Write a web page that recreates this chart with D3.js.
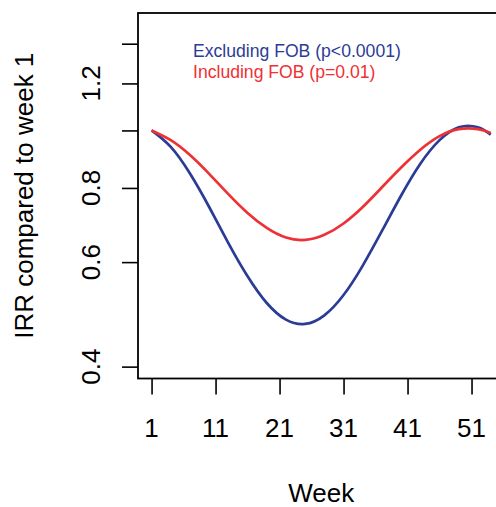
<!DOCTYPE html>
<html>
<head>
<meta charset="utf-8">
<script src="https://cdn.jsdelivr.net/npm/d3@7"></script>
<style>
  body { margin: 0; background: #fff; }
  svg { display: block; font-family: "Liberation Sans", Arial, Helvetica, sans-serif; }
</style>
</head>
<body>
<div id="chart"></div>
<script>
// values (IRR relative to week 1)
var weeks     = [1, 4, 7, 10, 13, 16, 19, 22, 25, 28, 31, 34, 37, 40, 43, 46, 49, 52, 54];
var excluding = [1.00, 0.938, 0.846, 0.743, 0.646, 0.568, 0.512, 0.480, 0.472, 0.488, 0.528,
                 0.592, 0.677, 0.777, 0.879, 0.963, 1.012, 1.012, 0.984];
var including = [1.00, 0.963, 0.909, 0.845, 0.781, 0.726, 0.685, 0.660, 0.654, 0.667, 0.697,
                 0.743, 0.802, 0.866, 0.928, 0.978, 1.005, 1.005, 0.990];
var xTicks = [1, 11, 21, 31, 41, 51];
var yTicks = [0.4, 0.6, 0.8, 1.0, 1.2, 1.4];
var yLabels = ["0.4", "0.6", "0.8", "", "1.2", ""];
var seriesNames = ["Excluding FOB (p<0.0001)", "Including FOB (p=0.01)"];
var seriesColors = ["#2b3c97", "#ee3134"];

var width = 496, height = 507;
var plotLeft = 138, plotTop = 13, plotBottom = 378.5, plotRight = 504.3;

var svg = d3.select("#chart").append("svg")
    .attr("width", width)
    .attr("height", height);

var x = d3.scaleLinear().domain([-1.12, 56.12]).range([plotLeft, plotRight]);
var y = d3.scaleLog().domain([0.382, 1.577]).range([plotBottom, plotTop]);

// plot box
svg.append("rect")
    .attr("x", plotLeft).attr("y", plotTop)
    .attr("width", plotRight - plotLeft).attr("height", plotBottom - plotTop)
    .attr("fill", "none").attr("stroke", "#000").attr("stroke-width", 1.8);

// x axis
var xAxis = svg.append("g")
    .attr("transform", "translate(0," + plotBottom + ")")
    .call(d3.axisBottom(x).tickValues(xTicks).tickSize(16).tickFormat(""));
xAxis.select(".domain").remove();
xAxis.selectAll("line").attr("stroke", "#000").attr("stroke-width", 1.6);

svg.selectAll(".xlab")
    .data(xTicks)
    .enter().append("text")
    .attr("class", "xlab")
    .attr("x", function(d) { return x(d); })
    .attr("y", 437)
    .attr("text-anchor", "middle")
    .attr("font-size", 26)
    .text(function(d) { return d; });

// y axis
var yAxis = svg.append("g")
    .attr("transform", "translate(" + plotLeft + ",0)")
    .call(d3.axisLeft(y).tickValues(yTicks).tickSize(16).tickFormat(""));
yAxis.select(".domain").remove();
yAxis.selectAll("line").attr("stroke", "#000").attr("stroke-width", 1.6);

svg.selectAll(".ylab")
    .data(yTicks)
    .enter().append("text")
    .attr("class", "ylab")
    .attr("transform", function(d) { return "translate(99.5," + y(d) + ")rotate(-90)"; })
    .attr("text-anchor", "middle")
    .attr("font-size", 26)
    .text(function(d, i) { return yLabels[i]; });

// axis titles
svg.append("text")
    .attr("x", (plotLeft + plotRight) / 2)
    .attr("y", 502)
    .attr("text-anchor", "middle")
    .attr("font-size", 26)
    .text("Week");

svg.append("text")
    .attr("transform", "translate(33," + (plotTop + plotBottom) / 2 + ")rotate(-90)")
    .attr("text-anchor", "middle")
    .attr("font-size", 26)
    .text("IRR compared to week 1");

// curves
svg.append("clipPath").attr("id", "plotclip")
    .append("rect").attr("x", plotLeft).attr("y", plotTop)
    .attr("width", plotRight - plotLeft).attr("height", plotBottom - plotTop);

var line = d3.line()
    .x(function(d) { return x(d[0]); })
    .y(function(d) { return y(d[1]); })
    .curve(d3.curveNatural);

[excluding, including].forEach(function(vals, i) {
    svg.append("path")
        .datum(weeks.map(function(w, j) { return [w, vals[j]]; }))
        .attr("d", line)
        .attr("fill", "none")
        .attr("stroke", seriesColors[i])
        .attr("stroke-width", 2.7)
        .attr("clip-path", "url(#plotclip)");
});

// legend
svg.selectAll(".legend")
    .data(seriesNames)
    .enter().append("text")
    .attr("class", "legend")
    .attr("x", 193)
    .attr("y", function(d, i) { return 56.5 + i * 21.6; })
    .attr("font-size", 17.6)
    .attr("fill", function(d, i) { return seriesColors[i]; })
    .text(function(d) { return d; });
</script>
</body>
</html>
